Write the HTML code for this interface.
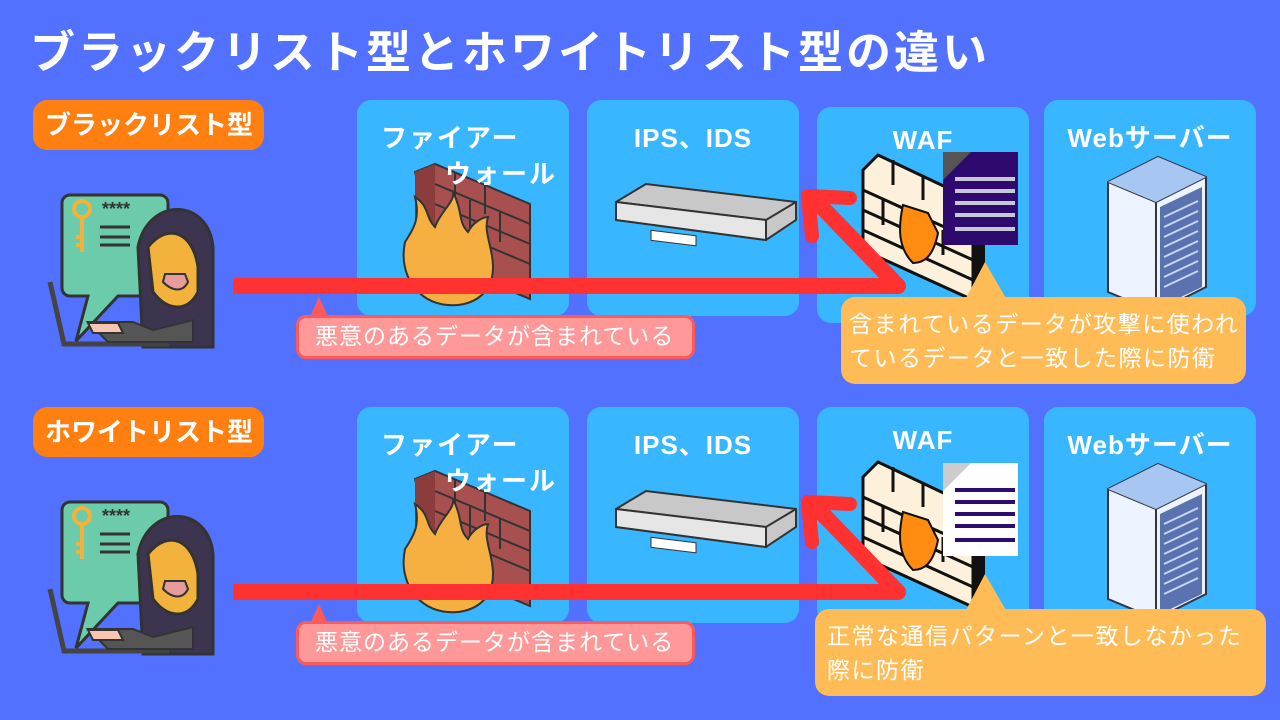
<!DOCTYPE html>
<html><head><meta charset="utf-8"><style>
*{margin:0;padding:0;box-sizing:border-box}
body{width:1280px;height:720px;background:#5271ff;position:relative;overflow:hidden;font-family:"Liberation Sans","Noto Sans CJK JP",sans-serif;color:#fff;font-weight:bold}
.a{position:absolute}
.t{left:30px;top:16px;font-size:45px;letter-spacing:3px;white-space:nowrap}
.lab{background:#ff7f11;border-radius:14px;font-size:26px;padding:0 12px;height:50px;line-height:50px;letter-spacing:0px;white-space:nowrap}
.box{background:#38b6ff;border-radius:14px;width:212px;height:216px}
.bt{font-size:26px;text-align:center;width:100%;top:18px;letter-spacing:1px}
.ft{font-size:26px;letter-spacing:2px;white-space:nowrap}
.pink{background:#ff9999;border:3px solid #ff5a5a;border-radius:10px;font-size:23px;font-weight:normal;padding-left:16px;line-height:37px;letter-spacing:1px;white-space:nowrap}
.org{background:#ffbb55;border-radius:14px;font-size:23px;font-weight:normal;padding:10px 8px;line-height:34px;letter-spacing:1.5px;white-space:nowrap}
</style></head><body>
<div class="a t">ブラックリスト型とホワイトリスト型の違い</div>

<div class="a lab" style="left:33px;top:100px;width:231px">ブラックリスト型</div>
<div class="a lab" style="left:33px;top:407px;width:231px">ホワイトリスト型</div>

<div class="a box" style="left:357px;top:100px"><div class="a ft" style="left:24px;top:18px">ファイアー</div><div class="a ft" style="left:88px;top:54px;z-index:3">ウォール</div></div>
<div class="a box" style="left:587px;top:100px"><div class="a bt">IPS、IDS</div></div>
<div class="a box" style="left:817px;top:107px"><div class="a bt">WAF</div></div>
<div class="a box" style="left:1044px;top:100px"><div class="a bt">Webサーバー</div></div>
<div class="a box" style="left:357px;top:407px"><div class="a ft" style="left:24px;top:18px">ファイアー</div><div class="a ft" style="left:88px;top:54px;z-index:3">ウォール</div></div>
<div class="a box" style="left:587px;top:407px"><div class="a bt">IPS、IDS</div></div>
<div class="a box" style="left:817px;top:407px"><div class="a bt">WAF</div></div>
<div class="a box" style="left:1044px;top:407px"><div class="a bt">Webサーバー</div></div>

<svg class="a" style="left:0;top:0" width="1280" height="720">
<defs>
<g id="hacker">
 <path d="M22 8h90a8 8 0 0 1 8 8v85a8 8 0 0 1-8 8H70l-42 45 12-45H22a8 8 0 0 1-8-8V16a8 8 0 0 1 8-8z" fill="#6ccbaa" stroke="#333" stroke-width="3"/>
 <circle cx="34" cy="22" r="8" fill="none" stroke="#f3b23c" stroke-width="4"/><path d="M34 30v35m0-15h-6m6 8h-6" stroke="#f3b23c" stroke-width="4"/>
 <text x="54" y="28" font-size="18" fill="#333" font-family="Liberation Sans">****</text>
 <path d="M52 40h30M52 50h30M52 58h30" stroke="#333" stroke-width="3"/>
 <path d="M90 60c10-50 70-50 75 0v100H95z" fill="#3d3550" stroke="#333" stroke-width="3"/>
 <path d="M100 60c20-25 45-15 50 20v25c-10 20-30 20-45 0z" fill="#f3b23c" stroke="#333" stroke-width="3"/>
 <path d="M115 95c10 10 20 10 25 0l-3-8h-20z" fill="#e89b9b" stroke="#333" stroke-width="2"/>
 <path d="M2 95l14 62h105" stroke="#444" stroke-width="5" fill="none"/>
 <path d="M40 135h45l20 8 40-10v22H60z" fill="#555" stroke="#333" stroke-width="2"/>
 <path d="M40 136h30l5 10H45z" fill="#f6c6b0" stroke="#333" stroke-width="2"/>
</g>
<g id="fw">
 <path d="M0 0l20-8 95 40v95l-95-40z" fill="#a85050" stroke="#333" stroke-width="2"/>
 <path d="M0 0l20-8v95l-20-8z" fill="#8b3d3d"/>
 <path d="M20 12l95 40M20 32l95 40M20 52l95 40M40 0v30M70 12v30M55 28v30M85 40v30" stroke="#333" stroke-width="2"/>
 <path d="M-10 70c10-15 15-25 10-45 15 10 10 20 20 30 5-15 20-25 18-35 10 20 5 30 15 40 5-10 15-15 20-15-5 15 5 30 5 50 0 30-25 40-45 38-30-2-50-30-43-63z" fill="#f5b041" stroke="#333" stroke-width="2"/>
</g>
<g id="ips">
 <path d="M0 20l30-18 150 18v18l-30 20L0 38z" fill="#c8c8c8" stroke="#333" stroke-width="2"/>
 <path d="M0 20l150 18 30-18M150 38v20" fill="none" stroke="#333" stroke-width="2"/>
 <path d="M0 20v18l150 20V38z" fill="#e6e6e6" stroke="#333" stroke-width="2"/>
 <rect x="35" y="44" width="45" height="10" fill="#fff" stroke="#333" transform="skewY(7)"/>
</g>
<g id="wall">
 <path d="M0 20l15-15 95 45v100L0 100z" fill="#fdf1dc" stroke="#111" stroke-width="3"/>
 <path d="M110 50l12-8v95l-12 13z" fill="#111"/>
 <path d="M0 40l110 50M0 60l110 50M0 80l110 50M30 10v25M60 25v25M90 40v25M20 50v25M50 65v25M80 80v25" stroke="#111" stroke-width="3"/>
 <path d="M40 55l25 8 10 20c-5 25-15 30-25 30-15-15-15-35-10-58z" fill="#ff8c11" stroke="#111" stroke-width="2"/>
</g>
<g id="srv">
 <path d="M0 25l50-25 48 20v110l-50 25L0 135z" fill="#eef4ff" stroke="#334" stroke-width="2"/>
 <path d="M0 25l48 20 50-25M48 45v110" fill="none" stroke="#334" stroke-width="2"/>
 <path d="M0 25l50-25 48 20-50 25z" fill="#a8c6f2"/>
 <path d="M52 50l42-20v100l-42 20z" fill="#5a73b0"/>
 <path d="M56 60l34-16M56 70l34-16M56 80l34-16M56 90l34-16M56 100l34-16M56 110l34-16M56 120l34-16M56 130l34-16" stroke="#c8d6f4" stroke-width="2"/>
</g>
</defs>
<use href="#hacker" x="48" y="187"/>
<use href="#fw" x="415" y="172"/>
<use href="#ips" x="616" y="182"/>
<use href="#wall" x="863" y="150"/>
<rect x="943" y="152" width="75" height="93" fill="#2e0a6e"/><path d="M943 152h28l-28 28z" fill="#555"/>
<g fill="#c8c8d8"><rect x="955" y="177" width="60" height="4"/><rect x="955" y="189" width="60" height="4"/><rect x="955" y="201" width="60" height="4"/><rect x="955" y="213" width="60" height="4"/><rect x="955" y="227" width="60" height="4"/></g>
<use href="#srv" x="1108" y="157"/>
<use href="#hacker" x="48" y="494"/>
<use href="#fw" x="415" y="479"/>
<use href="#ips" x="616" y="489"/>
<use href="#wall" x="863" y="457"/>
<rect x="943" y="463" width="75" height="93" fill="#fff"/><path d="M943 463h28l-28 28z" fill="#ccc"/>
<g fill="#2e0a6e"><rect x="955" y="488" width="60" height="4"/><rect x="955" y="500" width="60" height="4"/><rect x="955" y="512" width="60" height="4"/><rect x="955" y="524" width="60" height="4"/><rect x="955" y="538" width="60" height="4"/></g>
<use href="#srv" x="1108" y="464"/>
<g stroke="#ff3131" fill="none" stroke-linecap="round" stroke-linejoin="round">
<path d="M233 286H898L815 200" stroke-width="16" stroke-linecap="butt"/>
<path d="M812 236L808 196L850 198" stroke-width="14"/>
<path d="M233 592H898L815 506" stroke-width="16" stroke-linecap="butt"/>
<path d="M812 542L808 502L850 504" stroke-width="14"/>
</g>
<path d="M310 317l9-20 9 20z" fill="#ff5a5a"/>
<path d="M310 624l9-20 9 20z" fill="#ff5a5a"/>
<path d="M965 300l20-38 22 38z" fill="#ffbb55"/>
<path d="M965 612l20-38 22 38z" fill="#ffbb55"/>
</svg>

<div class="a pink" style="left:296px;top:315px;width:399px;height:44px">悪意のあるデータが含まれている</div>
<div class="a pink" style="left:296px;top:621px;width:399px;height:44px">悪意のあるデータが含まれている</div>
<div class="a org" style="left:841px;top:297px;width:405px;height:87px">含まれているデータが攻撃に使われ<br>ているデータと一致した際に防衛</div>
<div class="a org" style="left:815px;top:609px;width:451px;height:87px;padding-left:12px">正常な通信パターンと一致しなかった<br>際に防衛</div>
</body></html>
